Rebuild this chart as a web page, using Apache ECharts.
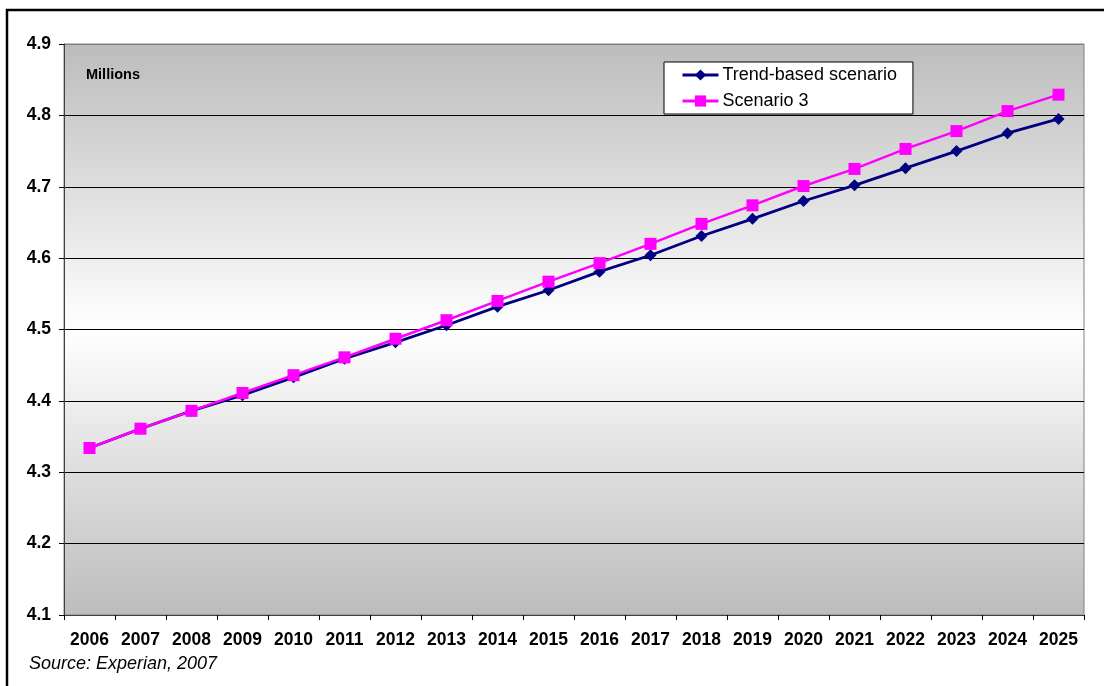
<!DOCTYPE html>
<html>
<head>
<meta charset="utf-8">
<script src="https://cdn.jsdelivr.net/npm/echarts@6/dist/echarts.min.js"></script>
<style>
html,body{margin:0;padding:0;background:#fff;}
#c{width:1104px;height:686px;}
</style>
</head>
<body>
<div id="c"></div>
<script>
const years = ['2006','2007','2008','2009','2010','2011','2012','2013','2014','2015','2016','2017','2018','2019','2020','2021','2022','2023','2024','2025'];
const trendBased = [4.334,4.361,4.386,4.408,4.433,4.459,4.482,4.506,4.532,4.555,4.581,4.604,4.631,4.655,4.680,4.702,4.726,4.750,4.775,4.795];
const scenario3 = [4.334,4.361,4.386,4.411,4.436,4.461,4.487,4.513,4.540,4.567,4.593,4.620,4.648,4.674,4.701,4.725,4.753,4.778,4.806,4.829];
const yTicks = ['4.1','4.2','4.3','4.4','4.5','4.6','4.7','4.8','4.9'];

const FONT = '"Liberation Sans", Arial, sans-serif';
const chart = echarts.init(document.getElementById('c'));
chart.setOption({
  animation: false,
  textStyle: {fontFamily: FONT},
  grid: {
    left: 64, right: 20, top: 44, bottom: 71,
    show: true,
    borderColor: '#808080',
    borderWidth: 1,
    backgroundColor: new echarts.graphic.LinearGradient(0, 0, 0, 1, [
      {offset: 0, color: '#bcbcbc'},
      {offset: 0.5, color: '#ffffff'},
      {offset: 1, color: '#bcbcbc'}
    ])
  },
  legend: {
    orient: 'vertical',
    left: 664, top: 62,
    backgroundColor: '#ffffff',
    borderColor: '#000000',
    borderWidth: 1,
    borderRadius: 0,
    padding: [3, 16, 3, 17],
    itemGap: 6,
    itemWidth: 36,
    itemHeight: 14,
    lineStyle: {width: 3},
    textStyle: {fontSize: 18, lineHeight: 20, color: '#000', fontFamily: FONT, padding: [0, 0, 0, -1]},
    data: ['Trend-based scenario', 'Scenario 3']
  },
  xAxis: {
    type: 'category',
    data: years,
    boundaryGap: true,
    axisLine: {lineStyle: {color: '#404040', width: 1}},
    axisTick: {show: true, length: 5, lineStyle: {color: '#000'}},
    axisLabel: {fontSize: 17.5, fontWeight: 'bold', color: '#000', margin: 16, interval: 0}
  },
  yAxis: {
    type: 'value',
    min: 4.1, max: 4.9, interval: 0.1,
    axisLine: {show: true, lineStyle: {color: '#404040', width: 1}},
    axisTick: {show: true, length: 5, lineStyle: {color: '#000'}},
    axisLabel: {fontSize: 17.5, fontWeight: 'bold', color: '#000', margin: 13,
      formatter: function (v) { return yTicks[Math.round((v - 4.1) * 10)]; }},
    splitLine: {show: true, lineStyle: {color: ['#000','#000','#000','#000','#000','#000','#000','#000','#808080'], width: 1}}
  },
  series: [
    {
      name: 'Trend-based scenario',
      type: 'line',
      data: trendBased,
      symbol: 'diamond',
      symbolSize: 12,
      lineStyle: {color: '#000080', width: 2.8},
      itemStyle: {color: '#000080'}
    },
    {
      name: 'Scenario 3',
      type: 'line',
      data: scenario3,
      symbol: 'rect',
      symbolSize: 12,
      lineStyle: {color: '#ff00ff', width: 2.5},
      itemStyle: {color: '#ff00ff'}
    }
  ],
  graphic: [
    {type: 'rect', shape: {x: 7, y: 10, width: 1200, height: 800}, style: {fill: 'none', stroke: '#000', lineWidth: 2.5}, silent: true},
    {type: 'text', style: {x: 86, y: 75, verticalAlign: 'middle', text: 'Millions', font: 'bold 14.5px ' + FONT, fill: '#000'}},
    {type: 'text', style: {x: 29, y: 664, verticalAlign: 'middle', text: 'Source: Experian, 2007', font: 'italic 18px ' + FONT, fill: '#000'}}
  ]
});
</script>
</body>
</html>
